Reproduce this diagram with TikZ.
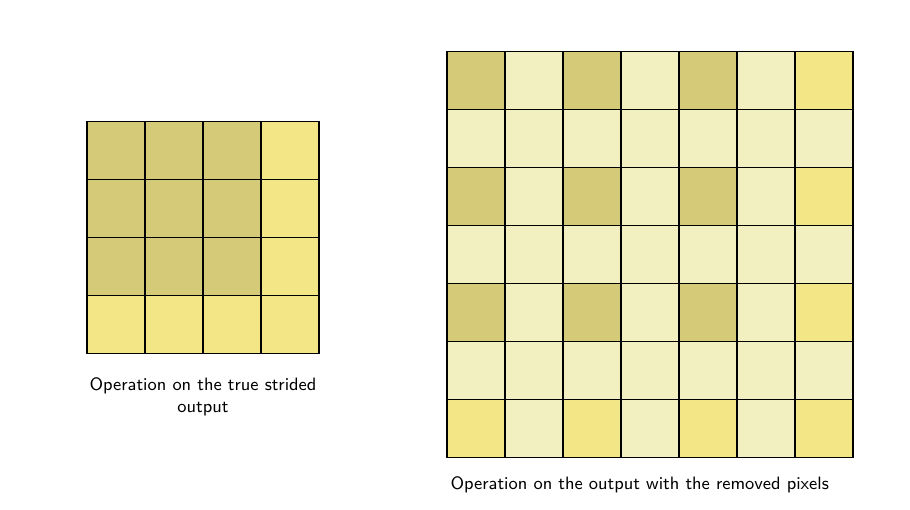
\documentclass[tikz,border=0pt]{standalone}
\usetikzlibrary{positioning}
\definecolor{darkcell}{HTML}{D4CA78}
\definecolor{yellowcell}{HTML}{F2E687}
\definecolor{lightcell}{HTML}{F2EFC0}
\tikzset{
  pixel/.style={draw=black, line width=0.6pt},
  caption/.style={font=\sffamily\fontsize{8.8}{10.8}\selectfont, align=center, anchor=base}
}
\begin{document}
\begin{tikzpicture}
\useasboundingbox (0,0) rectangle (15.69,8.79);
% true strided output, 4x4
\foreach \r in {0,...,3} {
    \foreach \c in {0,...,3} {
        \pgfmathtruncatemacro\isdark{and(\r<3,\c<3)}
        \ifnum\isdark=1 \def\shade{darkcell}\else\def\shade{yellowcell}\fi
        \draw[pixel, fill=\shade] (1.5+\c,5.69-\r) rectangle ++(1,1);
    }
}
\node[caption] (truetext) at (3.5,1.67) {Operation on the true strided\\output};
% output with removed pixels, 7x7
\foreach \r in {0,...,6} {
    \foreach \c in {0,...,6} {
        \pgfmathtruncatemacro\isgap{or(mod(\r,2)==1,mod(\c,2)==1)}
        \pgfmathtruncatemacro\isedge{or(\r==6,\c==6)}
        \ifnum\isgap=1 \def\shade{lightcell}\else
            \ifnum\isedge=1 \def\shade{yellowcell}\else\def\shade{darkcell}\fi
        \fi
        \draw[pixel, fill=\shade] (7.707+\c,6.897-\r) rectangle ++(1,1);
    }
}
\node[caption] (removedtext) at (11.03,0.345) {Operation on the output with the removed pixels};
\end{tikzpicture}
\end{document}
